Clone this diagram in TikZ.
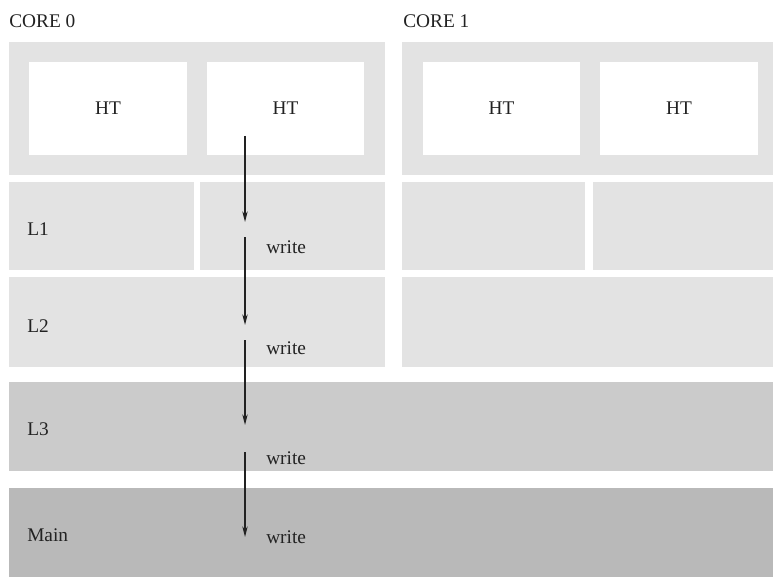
\documentclass[tikz,border=0pt]{standalone}
\usepackage{fontspec}
\setmainfont{Liberation Serif}
\usetikzlibrary{arrows.meta}
\definecolor{panel}{HTML}{E3E3E3}
\definecolor{shared}{HTML}{CBCBCB}
\definecolor{memory}{HTML}{B9B9B9}
\definecolor{ink}{HTML}{222222}
\newcommand\cellbox[6]{%
  \node[cellbox, fill=#6, minimum width={(#4-#2)*0.75pt}, minimum height={(#5-#3)*0.75pt}] (#1) at (#2,#3) {};}
\begin{document}
\begin{tikzpicture}[x=0.75pt, y=-0.75pt,
  cellbox/.style={anchor=north west, inner sep=0pt, outer sep=0pt, draw=none},
  txt/.style={font=\fontsize{14.5pt}{16pt}\selectfont, text=ink, inner sep=0pt},
  flow/.style={draw=ink, line width=0.9pt, -{Stealth[length=8pt, width=4pt]}}]
\useasboundingbox (0,0) rectangle (773,577);

% core 0
\node[txt, anchor=west] (core0) at (9,21) {CORE 0};
\cellbox{c0top}{9}{42}{385}{175}{panel}
\cellbox{ht00}{29}{62}{187}{155}{white}
\cellbox{ht01}{207}{62}{364}{155}{white}
\cellbox{l1a}{9}{182}{194}{270}{panel}
\cellbox{l1b}{200}{182}{385}{270}{panel}
\cellbox{l2a}{9}{277}{385}{367}{panel}

% core 1
\node[txt, anchor=west] (core1) at (403,21) {CORE 1};
\cellbox{c1top}{402}{42}{773}{175}{panel}
\cellbox{ht10}{423}{62}{580}{155}{white}
\cellbox{ht11}{600}{62}{758}{155}{white}
\cellbox{l1c}{402}{182}{585}{270}{panel}
\cellbox{l1d}{593}{182}{773}{270}{panel}
\cellbox{l2b}{402}{277}{773}{367}{panel}

% shared levels
\cellbox{l3}{9}{382}{773}{471}{shared}
\cellbox{mem}{9}{488}{773}{577}{memory}

% labels
\node[txt] at (ht00.center) {HT};
\node[txt] at (ht01.center) {HT};
\node[txt] at (ht10.center) {HT};
\node[txt] at (ht11.center) {HT};
\node[txt, anchor=west] (lab1) at (27,229) {L1};
\node[txt, anchor=west] (lab2) at (27,326) {L2};
\node[txt, anchor=west] (lab3) at (27,429) {L3};
\node[txt, anchor=west] (labm) at (27,535) {Main};
\node[txt, anchor=west] (w1) at (266,247) {write};
\node[txt, anchor=west] (w2) at (266,348) {write};
\node[txt, anchor=west] (w3) at (266,458) {write};
\node[txt, anchor=west] (w4) at (266,537) {write};

% write path
\coordinate (a0) at (245,136);
\coordinate (a1) at (245,222);
\coordinate (b0) at (245,237);
\coordinate (b1) at (245,325);
\coordinate (c0) at (245,340);
\coordinate (c1) at (245,425);
\coordinate (d0) at (245,452);
\coordinate (d1) at (245,537);
\draw[flow] (a0) -- (a1);
\draw[flow] (b0) -- (b1);
\draw[flow] (c0) -- (c1);
\draw[flow] (d0) -- (d1);
\end{tikzpicture}
\end{document}
